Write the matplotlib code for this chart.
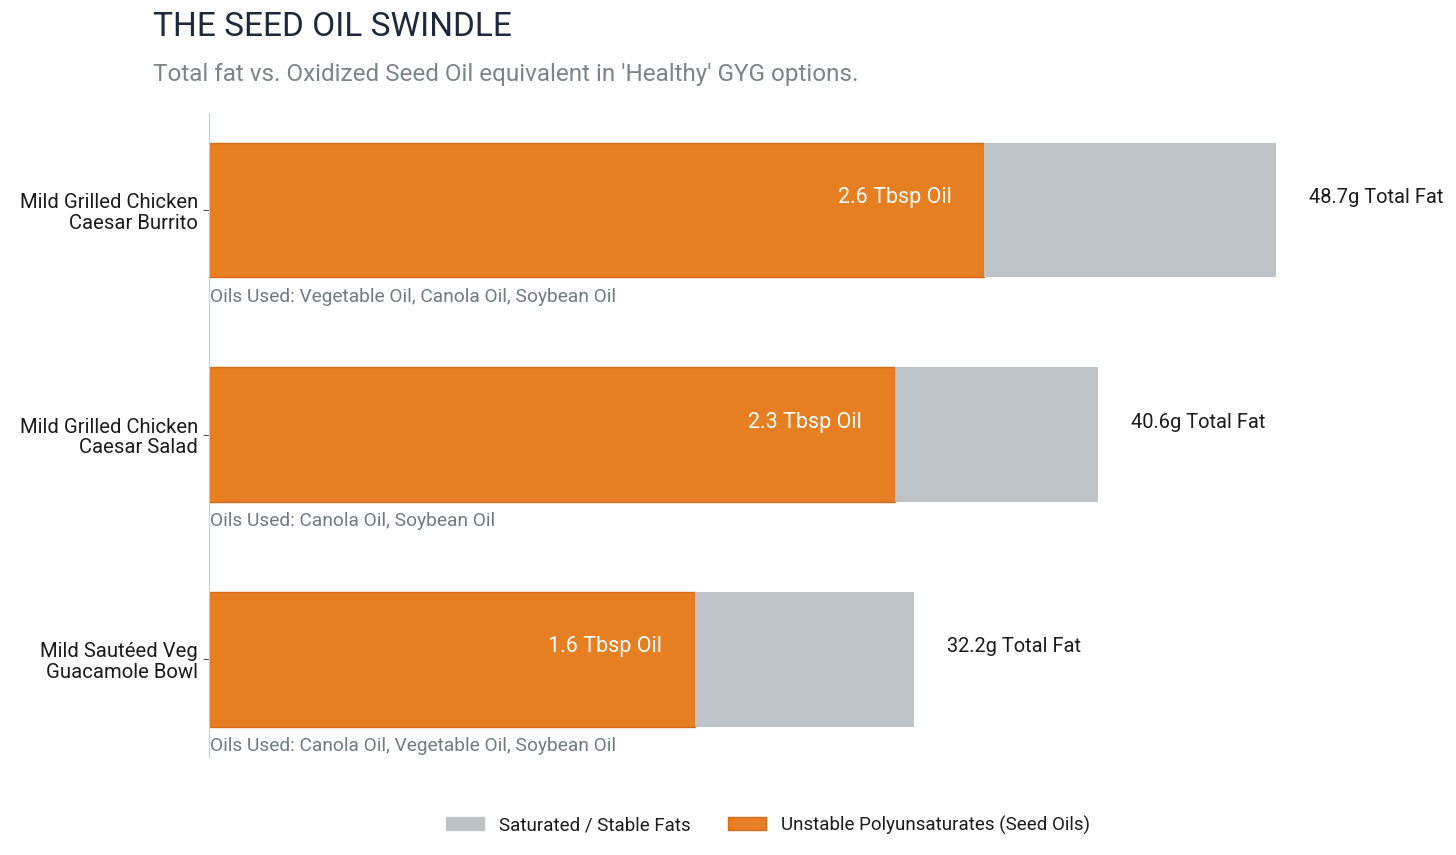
import matplotlib
matplotlib.use('Agg')
import matplotlib.pyplot as plt
from matplotlib.patches import Patch

plt.rcParams['font.family'] = ['Roboto', 'DejaVu Sans']

items = ['Mild Grilled Chicken\nCaesar Burrito',
         'Mild Grilled Chicken\nCaesar Salad',
         'Mild Sautéed Veg\nGuacamole Bowl']
total_fat = [48.7, 40.6, 32.2]
seed_oil_g = [35.4, 31.3, 22.2]
tbsp = [2.6, 2.3, 1.6]
oils_used = ['Vegetable Oil, Canola Oil, Soybean Oil',
             'Canola Oil, Soybean Oil',
             'Canola Oil, Vegetable Oil, Soybean Oil']

orange = '#E67E22'
orange_edge = '#D9691A'
grey = '#BDC3C7'

fig = plt.figure(figsize=(14.56, 8.55), dpi=100)
ax = fig.add_axes([209/1456, 1 - 757/855, (1329-209)/1456, (757-113)/855])

y = list(range(len(items)))
stable = [t - s for t, s in zip(total_fat, seed_oil_g)]
ax.barh(y, seed_oil_g, height=0.6, color=orange, edgecolor=orange_edge, linewidth=1)
ax.barh(y, stable, left=seed_oil_g, height=0.6, color=grey, edgecolor=grey, linewidth=0)

for i in y:
    ax.text(seed_oil_g[i] - 1.5, i - 0.055, f'{tbsp[i]} Tbsp Oil', ha='right', va='center',
            color='white', fontsize=15.5)
    ax.text(total_fat[i] + 1.5, i - 0.055, f'{total_fat[i]}g Total Fat', ha='left', va='center',
            color='#1b1b1b', fontsize=14.4, clip_on=False)
    ax.text(0.05, i + 0.385, f'Oils Used: {oils_used[i]}', ha='left', va='center',
            color='#6f7b7d', fontsize=13.8)

ax.set_xlim(0, max(total_fat) * 1.05)
ax.set_ylim(2.435, -0.432)
ax.set_yticks(y)
ax.set_yticklabels(items, fontsize=14.6, color='#1b1b1b', linespacing=1.1)
ax.set_xticks([])
for s in ['top', 'right', 'bottom']:
    ax.spines[s].set_visible(False)
ax.spines['left'].set_color('#c5cacd')
ax.tick_params(axis='y', length=4, color='#555555', pad=4)

fig.text(153/1456, 1 - 27/855, 'THE SEED OIL SWINDLE', fontsize=24, color='#1c2a3c',
         ha='left', va='center')
fig.text(153/1456, 1 - 75/855, "Total fat vs. Oxidized Seed Oil equivalent in 'Healthy' GYG options.",
         fontsize=17.5, color='#7b8587', ha='left', va='center')

handles = [Patch(facecolor=grey, edgecolor=grey, label='Saturated / Stable Fats'),
           Patch(facecolor=orange, edgecolor=orange_edge, label='Unstable Polyunsaturates (Seed Oils)')]
leg = fig.legend(handles=handles, loc='center', bbox_to_anchor=(768/1456, 1 - 825/855), ncol=2,
                 frameon=False, fontsize=13.5, handlelength=2.0, handleheight=0.7,
                 handletextpad=0.8, columnspacing=2.0)
for t in leg.get_texts():
    t.set_color('#1b1b1b')

fig.savefig('out.png', dpi=100)
